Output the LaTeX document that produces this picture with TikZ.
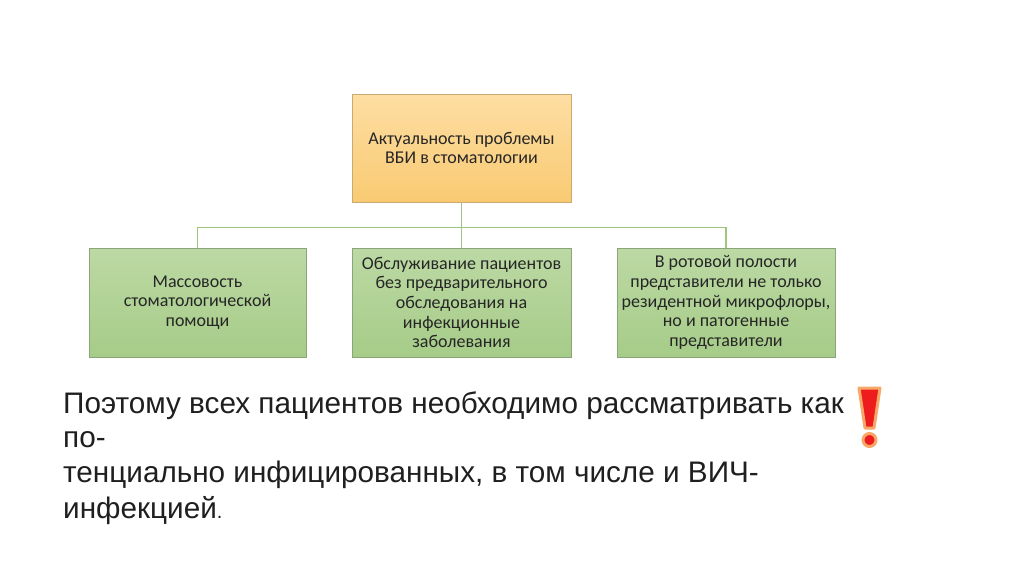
\documentclass[tikz,border=0pt]{standalone}
\usepackage{fontspec}
\setmainfont{Liberation Sans}
\newfontfamily\boxfont{Carlito}
\begin{document}
\begin{tikzpicture}[x=1pt,y=-1pt,
  box/.style={draw=#1, line width=1pt, align=center, font=\boxfont\fontsize{18}{19.6}\selectfont, text=black!85, inner sep=0pt},
  orangebox/.style={box=orangeborder, top color=orangetop, bottom color=orangebot, minimum width=219pt, minimum height=108pt},
  greenbox/.style={box=greenborder, top color=greentop, bottom color=greenbot, minimum height=109pt},
  conn/.style={draw=connc, line width=1.6pt},
  bodytext/.style={anchor=base west, inner sep=0pt, font=\fontsize{29.7}{34}\selectfont, text=black!88}]
\definecolor{orangetop}{HTML}{FDDEA3}
\definecolor{orangebot}{HTML}{F9CA72}
\definecolor{orangeborder}{HTML}{C9AA70}
\definecolor{greentop}{HTML}{BCD9A4}
\definecolor{greenbot}{HTML}{A6CC88}
\definecolor{greenborder}{HTML}{8BA57A}
\definecolor{connc}{HTML}{9EC681}
\definecolor{exred}{HTML}{EE1C1C}
\definecolor{exglow}{HTML}{F7A868}
\useasboundingbox[fill=white] (0,0) rectangle (1024,574);
\node[orangebox] (top) at (461.5,148) {Актуальность проблемы\\ВБИ в стоматологии};
\node[greenbox, minimum width=217pt] (left) at (197.5,302.5) {Массовость\\стоматологической\\помощи};
\node[greenbox, minimum width=219pt] (mid) at (461.5,302.5) {Обслуживание пациентов\\без предварительного\\обследования на\\инфекционные\\заболевания};
\node[greenbox, minimum width=218pt] (right) at (726,302.5) {В ротовой полости\\представители не только\\резидентной микрофлоры,\\но и патогенные\\представители};
\draw[conn] (top.south) -- (mid.north);
\draw[conn] (left.north) -- ++(0,-20) -| (right.north);
\node[bodytext] (l1) at (63,413) {Поэтому всех пациентов необходимо рассматривать как};
\node[bodytext] (l2) at (63,447) {по-};
\node[bodytext] (l3) at (63,482) {тенциально инфицированных, в том числе и ВИЧ-};
\node[bodytext] (l4) at (63,518) {инфекцией{\fontsize{20}{24}\selectfont.}};
% exclamation mark
\fill[exred, draw=exglow, line width=3pt, line join=round] (859,388) -- (880,388) -- (874,428) -- (865,428) -- cycle;
\fill[exred, draw=exglow, line width=3pt] (869.5,440) circle (6.5pt);
\end{tikzpicture}
\end{document}
